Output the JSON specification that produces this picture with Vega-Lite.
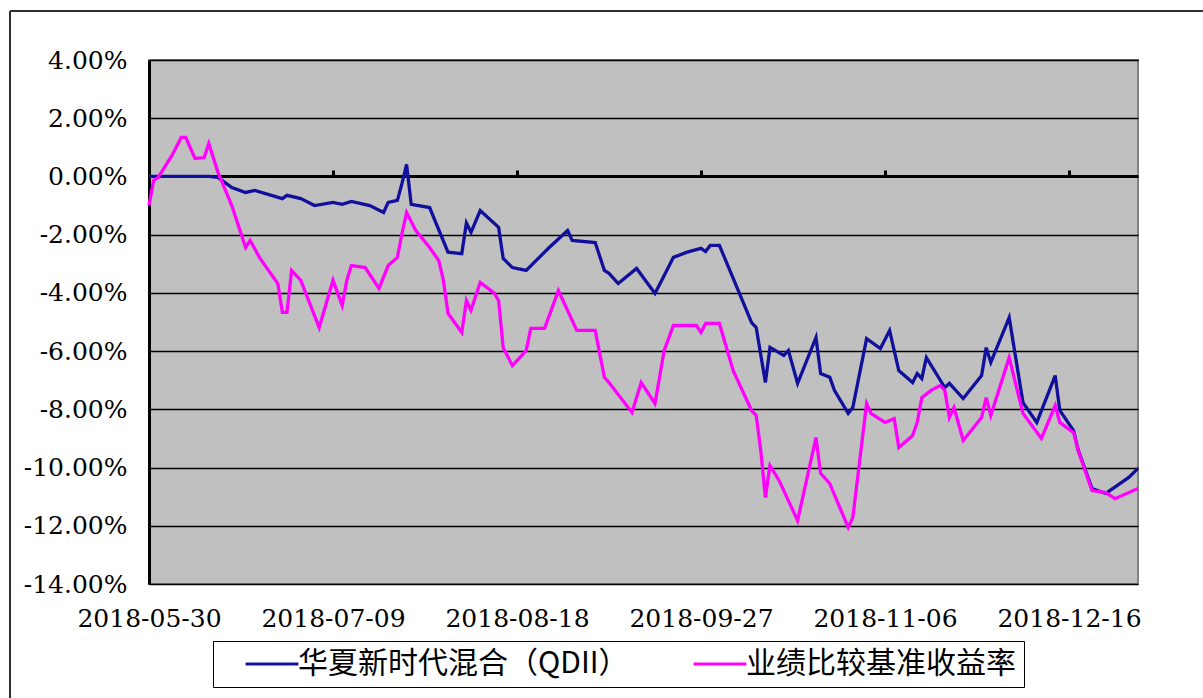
{
  "$schema": "https://vega.github.io/schema/vega-lite/v6.json",
  "width": 989,
  "height": 524,
  "autosize": "none",
  "padding": {"left": 149, "top": 60, "right": 65, "bottom": 114},
  "background": "white",
  "config": {
    "font": "DejaVu Serif",
    "view": {"fill": "#c0c0c0", "stroke": "#808080", "strokeWidth": 2}
  },
  "data": {
    "values": [
      {"d": "2018/05/30", "s": "华夏新时代混合（QDII）", "v": 0},
      {"d": "2018/06/12", "s": "华夏新时代混合（QDII）", "v": 0},
      {"d": "2018/06/14", "s": "华夏新时代混合（QDII）", "v": -0.03},
      {"d": "2018/06/17", "s": "华夏新时代混合（QDII）", "v": -0.38},
      {"d": "2018/06/20", "s": "华夏新时代混合（QDII）", "v": -0.55},
      {"d": "2018/06/22", "s": "华夏新时代混合（QDII）", "v": -0.48},
      {"d": "2018/06/28", "s": "华夏新时代混合（QDII）", "v": -0.76},
      {"d": "2018/06/29", "s": "华夏新时代混合（QDII）", "v": -0.65},
      {"d": "2018/07/02", "s": "华夏新时代混合（QDII）", "v": -0.76},
      {"d": "2018/07/05", "s": "华夏新时代混合（QDII）", "v": -1.0},
      {"d": "2018/07/09", "s": "华夏新时代混合（QDII）", "v": -0.89},
      {"d": "2018/07/11", "s": "华夏新时代混合（QDII）", "v": -0.96},
      {"d": "2018/07/13", "s": "华夏新时代混合（QDII）", "v": -0.86},
      {"d": "2018/07/17", "s": "华夏新时代混合（QDII）", "v": -1.0},
      {"d": "2018/07/20", "s": "华夏新时代混合（QDII）", "v": -1.24},
      {"d": "2018/07/21", "s": "华夏新时代混合（QDII）", "v": -0.89},
      {"d": "2018/07/23", "s": "华夏新时代混合（QDII）", "v": -0.82},
      {"d": "2018/07/24", "s": "华夏新时代混合（QDII）", "v": -0.24},
      {"d": "2018/07/25", "s": "华夏新时代混合（QDII）", "v": 0.41},
      {"d": "2018/07/26", "s": "华夏新时代混合（QDII）", "v": -0.96},
      {"d": "2018/07/30", "s": "华夏新时代混合（QDII）", "v": -1.07},
      {"d": "2018/08/03", "s": "华夏新时代混合（QDII）", "v": -2.6},
      {"d": "2018/08/06", "s": "华夏新时代混合（QDII）", "v": -2.65},
      {"d": "2018/08/07", "s": "华夏新时代混合（QDII）", "v": -1.6},
      {"d": "2018/08/08", "s": "华夏新时代混合（QDII）", "v": -1.92},
      {"d": "2018/08/10", "s": "华夏新时代混合（QDII）", "v": -1.17},
      {"d": "2018/08/14", "s": "华夏新时代混合（QDII）", "v": -1.75},
      {"d": "2018/08/15", "s": "华夏新时代混合（QDII）", "v": -2.82},
      {"d": "2018/08/17", "s": "华夏新时代混合（QDII）", "v": -3.13},
      {"d": "2018/08/20", "s": "华夏新时代混合（QDII）", "v": -3.23},
      {"d": "2018/08/25", "s": "华夏新时代混合（QDII）", "v": -2.44},
      {"d": "2018/08/29", "s": "华夏新时代混合（QDII）", "v": -1.86},
      {"d": "2018/08/30", "s": "华夏新时代混合（QDII）", "v": -2.2},
      {"d": "2018/09/04", "s": "华夏新时代混合（QDII）", "v": -2.27},
      {"d": "2018/09/06", "s": "华夏新时代混合（QDII）", "v": -3.23},
      {"d": "2018/09/07", "s": "华夏新时代混合（QDII）", "v": -3.33},
      {"d": "2018/09/09", "s": "华夏新时代混合（QDII）", "v": -3.68},
      {"d": "2018/09/13", "s": "华夏新时代混合（QDII）", "v": -3.16},
      {"d": "2018/09/17", "s": "华夏新时代混合（QDII）", "v": -4.02},
      {"d": "2018/09/19", "s": "华夏新时代混合（QDII）", "v": -3.4},
      {"d": "2018/09/21", "s": "华夏新时代混合（QDII）", "v": -2.78},
      {"d": "2018/09/24", "s": "华夏新时代混合（QDII）", "v": -2.6},
      {"d": "2018/09/27", "s": "华夏新时代混合（QDII）", "v": -2.47},
      {"d": "2018/09/28", "s": "华夏新时代混合（QDII）", "v": -2.58},
      {"d": "2018/09/29", "s": "华夏新时代混合（QDII）", "v": -2.37},
      {"d": "2018/10/01", "s": "华夏新时代混合（QDII）", "v": -2.37},
      {"d": "2018/10/04", "s": "华夏新时代混合（QDII）", "v": -3.5},
      {"d": "2018/10/08", "s": "华夏新时代混合（QDII）", "v": -5.02},
      {"d": "2018/10/09", "s": "华夏新时代混合（QDII）", "v": -5.19},
      {"d": "2018/10/11", "s": "华夏新时代混合（QDII）", "v": -7.08},
      {"d": "2018/10/12", "s": "华夏新时代混合（QDII）", "v": -5.87},
      {"d": "2018/10/15", "s": "华夏新时代混合（QDII）", "v": -6.15},
      {"d": "2018/10/16", "s": "华夏新时代混合（QDII）", "v": -5.98},
      {"d": "2018/10/18", "s": "华夏新时代混合（QDII）", "v": -7.11},
      {"d": "2018/10/22", "s": "华夏新时代混合（QDII）", "v": -5.53},
      {"d": "2018/10/23", "s": "华夏新时代混合（QDII）", "v": -6.77},
      {"d": "2018/10/25", "s": "华夏新时代混合（QDII）", "v": -6.9},
      {"d": "2018/10/26", "s": "华夏新时代混合（QDII）", "v": -7.35},
      {"d": "2018/10/29", "s": "华夏新时代混合（QDII）", "v": -8.14},
      {"d": "2018/10/30", "s": "华夏新时代混合（QDII）", "v": -7.94},
      {"d": "2018/11/02", "s": "华夏新时代混合（QDII）", "v": -5.57},
      {"d": "2018/11/05", "s": "华夏新时代混合（QDII）", "v": -5.91},
      {"d": "2018/11/07", "s": "华夏新时代混合（QDII）", "v": -5.29},
      {"d": "2018/11/09", "s": "华夏新时代混合（QDII）", "v": -6.67},
      {"d": "2018/11/12", "s": "华夏新时代混合（QDII）", "v": -7.08},
      {"d": "2018/11/13", "s": "华夏新时代混合（QDII）", "v": -6.77},
      {"d": "2018/11/14", "s": "华夏新时代混合（QDII）", "v": -6.94},
      {"d": "2018/11/15", "s": "华夏新时代混合（QDII）", "v": -6.22},
      {"d": "2018/11/19", "s": "华夏新时代混合（QDII）", "v": -7.25},
      {"d": "2018/11/20", "s": "华夏新时代混合（QDII）", "v": -7.11},
      {"d": "2018/11/23", "s": "华夏新时代混合（QDII）", "v": -7.63},
      {"d": "2018/11/27", "s": "华夏新时代混合（QDII）", "v": -6.84},
      {"d": "2018/11/28", "s": "华夏新时代混合（QDII）", "v": -5.88},
      {"d": "2018/11/29", "s": "华夏新时代混合（QDII）", "v": -6.39},
      {"d": "2018/12/03", "s": "华夏新时代混合（QDII）", "v": -4.85},
      {"d": "2018/12/06", "s": "华夏新时代混合（QDII）", "v": -7.77},
      {"d": "2018/12/09", "s": "华夏新时代混合（QDII）", "v": -8.45},
      {"d": "2018/12/13", "s": "华夏新时代混合（QDII）", "v": -6.84},
      {"d": "2018/12/14", "s": "华夏新时代混合（QDII）", "v": -8.04},
      {"d": "2018/12/17", "s": "华夏新时代混合（QDII）", "v": -8.73},
      {"d": "2018/12/18", "s": "华夏新时代混合（QDII）", "v": -9.4},
      {"d": "2018/12/21", "s": "华夏新时代混合（QDII）", "v": -10.72},
      {"d": "2018/12/24", "s": "华夏新时代混合（QDII）", "v": -10.89},
      {"d": "2018/12/29", "s": "华夏新时代混合（QDII）", "v": -10.34},
      {"d": "2018/12/31", "s": "华夏新时代混合（QDII）", "v": -10.03},
      {"d": "2018/05/30", "s": "业绩比较基准收益率", "v": -1.0},
      {"d": "2018/05/31", "s": "业绩比较基准收益率", "v": -0.14},
      {"d": "2018/06/01", "s": "业绩比较基准收益率", "v": -0.03},
      {"d": "2018/06/04", "s": "业绩比较基准收益率", "v": 0.72},
      {"d": "2018/06/06", "s": "业绩比较基准收益率", "v": 1.34},
      {"d": "2018/06/07", "s": "业绩比较基准收益率", "v": 1.34},
      {"d": "2018/06/09", "s": "业绩比较基准收益率", "v": 0.62},
      {"d": "2018/06/11", "s": "业绩比较基准收益率", "v": 0.65},
      {"d": "2018/06/12", "s": "业绩比较基准收益率", "v": 1.13},
      {"d": "2018/06/14", "s": "业绩比较基准收益率", "v": 0.14},
      {"d": "2018/06/17", "s": "业绩比较基准收益率", "v": -1.0},
      {"d": "2018/06/19", "s": "业绩比较基准收益率", "v": -1.96},
      {"d": "2018/06/20", "s": "业绩比较基准收益率", "v": -2.44},
      {"d": "2018/06/21", "s": "业绩比较基准收益率", "v": -2.2},
      {"d": "2018/06/23", "s": "业绩比较基准收益率", "v": -2.78},
      {"d": "2018/06/27", "s": "业绩比较基准收益率", "v": -3.68},
      {"d": "2018/06/28", "s": "业绩比较基准收益率", "v": -4.67},
      {"d": "2018/06/29", "s": "业绩比较基准收益率", "v": -4.67},
      {"d": "2018/06/30", "s": "业绩比较基准收益率", "v": -3.23},
      {"d": "2018/07/02", "s": "业绩比较基准收益率", "v": -3.57},
      {"d": "2018/07/06", "s": "业绩比较基准收益率", "v": -5.19},
      {"d": "2018/07/09", "s": "业绩比较基准收益率", "v": -3.57},
      {"d": "2018/07/11", "s": "业绩比较基准收益率", "v": -4.43},
      {"d": "2018/07/12", "s": "业绩比较基准收益率", "v": -3.57},
      {"d": "2018/07/13", "s": "业绩比较基准收益率", "v": -3.06},
      {"d": "2018/07/16", "s": "业绩比较基准收益率", "v": -3.13},
      {"d": "2018/07/19", "s": "业绩比较基准收益率", "v": -3.85},
      {"d": "2018/07/21", "s": "业绩比较基准收益率", "v": -3.06},
      {"d": "2018/07/23", "s": "业绩比较基准收益率", "v": -2.78},
      {"d": "2018/07/24", "s": "业绩比较基准收益率", "v": -1.96},
      {"d": "2018/07/25", "s": "业绩比较基准收益率", "v": -1.24},
      {"d": "2018/07/27", "s": "业绩比较基准收益率", "v": -1.86},
      {"d": "2018/07/30", "s": "业绩比较基准收益率", "v": -2.44},
      {"d": "2018/08/01", "s": "业绩比较基准收益率", "v": -2.89},
      {"d": "2018/08/02", "s": "业绩比较基准收益率", "v": -3.57},
      {"d": "2018/08/03", "s": "业绩比较基准收益率", "v": -4.7},
      {"d": "2018/08/06", "s": "业绩比较基准收益率", "v": -5.36},
      {"d": "2018/08/07", "s": "业绩比较基准收益率", "v": -4.26},
      {"d": "2018/08/08", "s": "业绩比较基准收益率", "v": -4.6},
      {"d": "2018/08/10", "s": "业绩比较基准收益率", "v": -3.64},
      {"d": "2018/08/13", "s": "业绩比较基准收益率", "v": -4.0},
      {"d": "2018/08/14", "s": "业绩比较基准收益率", "v": -4.26},
      {"d": "2018/08/15", "s": "业绩比较基准收益率", "v": -5.88},
      {"d": "2018/08/17", "s": "业绩比较基准收益率", "v": -6.5},
      {"d": "2018/08/20", "s": "业绩比较基准收益率", "v": -5.98},
      {"d": "2018/08/21", "s": "业绩比较基准收益率", "v": -5.22},
      {"d": "2018/08/24", "s": "业绩比较基准收益率", "v": -5.22},
      {"d": "2018/08/27", "s": "业绩比较基准收益率", "v": -3.92},
      {"d": "2018/08/31", "s": "业绩比较基准收益率", "v": -5.29},
      {"d": "2018/09/04", "s": "业绩比较基准收益率", "v": -5.29},
      {"d": "2018/09/06", "s": "业绩比较基准收益率", "v": -6.9},
      {"d": "2018/09/07", "s": "业绩比较基准收益率", "v": -7.08},
      {"d": "2018/09/12", "s": "业绩比较基准收益率", "v": -8.11},
      {"d": "2018/09/14", "s": "业绩比较基准收益率", "v": -7.08},
      {"d": "2018/09/17", "s": "业绩比较基准收益率", "v": -7.8},
      {"d": "2018/09/19", "s": "业绩比较基准收益率", "v": -5.98},
      {"d": "2018/09/21", "s": "业绩比较基准收益率", "v": -5.12},
      {"d": "2018/09/26", "s": "业绩比较基准收益率", "v": -5.12},
      {"d": "2018/09/27", "s": "业绩比较基准收益率", "v": -5.36},
      {"d": "2018/09/28", "s": "业绩比较基准收益率", "v": -5.05},
      {"d": "2018/10/01", "s": "业绩比较基准收益率", "v": -5.05},
      {"d": "2018/10/04", "s": "业绩比较基准收益率", "v": -6.67},
      {"d": "2018/10/08", "s": "业绩比较基准收益率", "v": -8.04},
      {"d": "2018/10/09", "s": "业绩比较基准收益率", "v": -8.21},
      {"d": "2018/10/10", "s": "业绩比较基准收益率", "v": -9.42},
      {"d": "2018/10/11", "s": "业绩比较基准收益率", "v": -11.03},
      {"d": "2018/10/12", "s": "业绩比较基准收益率", "v": -9.93},
      {"d": "2018/10/14", "s": "业绩比较基准收益率", "v": -10.45},
      {"d": "2018/10/18", "s": "业绩比较基准收益率", "v": -11.82},
      {"d": "2018/10/22", "s": "业绩比较基准收益率", "v": -8.97},
      {"d": "2018/10/23", "s": "业绩比较基准收益率", "v": -10.2},
      {"d": "2018/10/25", "s": "业绩比较基准收益率", "v": -10.55},
      {"d": "2018/10/29", "s": "业绩比较基准收益率", "v": -12.06},
      {"d": "2018/10/30", "s": "业绩比较基准收益率", "v": -11.72},
      {"d": "2018/11/02", "s": "业绩比较基准收益率", "v": -7.8},
      {"d": "2018/11/03", "s": "业绩比较基准收益率", "v": -8.15},
      {"d": "2018/11/06", "s": "业绩比较基准收益率", "v": -8.45},
      {"d": "2018/11/08", "s": "业绩比较基准收益率", "v": -8.32},
      {"d": "2018/11/09", "s": "业绩比较基准收益率", "v": -9.31},
      {"d": "2018/11/12", "s": "业绩比较基准收益率", "v": -8.9},
      {"d": "2018/11/13", "s": "业绩比较基准收益率", "v": -8.45},
      {"d": "2018/11/14", "s": "业绩比较基准收益率", "v": -7.6},
      {"d": "2018/11/16", "s": "业绩比较基准收益率", "v": -7.35},
      {"d": "2018/11/18", "s": "业绩比较基准收益率", "v": -7.18},
      {"d": "2018/11/19", "s": "业绩比较基准收益率", "v": -7.35},
      {"d": "2018/11/20", "s": "业绩比较基准收益率", "v": -8.28},
      {"d": "2018/11/21", "s": "业绩比较基准收益率", "v": -7.94},
      {"d": "2018/11/23", "s": "业绩比较基准收益率", "v": -9.07},
      {"d": "2018/11/27", "s": "业绩比较基准收益率", "v": -8.28},
      {"d": "2018/11/28", "s": "业绩比较基准收益率", "v": -7.6},
      {"d": "2018/11/29", "s": "业绩比较基准收益率", "v": -8.21},
      {"d": "2018/12/03", "s": "业绩比较基准收益率", "v": -6.22},
      {"d": "2018/12/06", "s": "业绩比较基准收益率", "v": -8.14},
      {"d": "2018/12/10", "s": "业绩比较基准收益率", "v": -9.0},
      {"d": "2018/12/13", "s": "业绩比较基准收益率", "v": -7.87},
      {"d": "2018/12/14", "s": "业绩比较基准收益率", "v": -8.45},
      {"d": "2018/12/17", "s": "业绩比较基准收益率", "v": -8.8},
      {"d": "2018/12/18", "s": "业绩比较基准收益率", "v": -9.42},
      {"d": "2018/12/21", "s": "业绩比较基准收益率", "v": -10.79},
      {"d": "2018/12/24", "s": "业绩比较基准收益率", "v": -10.86},
      {"d": "2018/12/26", "s": "业绩比较基准收益率", "v": -11.07},
      {"d": "2018/12/31", "s": "业绩比较基准收益率", "v": -10.72}
    ]
  },
  "resolve": {"axis": {"x": "independent", "y": "independent"}},
  "layer": [
    {
      "mark": {"type": "point", "opacity": 0},
      "encoding": {
        "x": {
          "field": "d",
          "type": "temporal",
          "scale": {"domain": [{"year": 2018, "month": 5, "date": 30}, {"year": 2018, "month": 12, "date": 31}]},
          "axis": {
            "orient": "top",
            "offset": -116,
            "title": null,
            "labels": false,
            "grid": false,
            "domain": true,
            "domainColor": "black",
            "domainWidth": 3,
            "ticks": true,
            "tickColor": "black",
            "tickWidth": 3,
            "tickSize": 6,
            "zindex": 0,
            "values": [
              {"year": 2018, "month": 5, "date": 30},
              {"year": 2018, "month": 7, "date": 9},
              {"year": 2018, "month": 8, "date": 18},
              {"year": 2018, "month": 9, "date": 27},
              {"year": 2018, "month": 11, "date": 6},
              {"year": 2018, "month": 12, "date": 16}
            ]
          }
        },
        "y": {
          "field": "v",
          "type": "quantitative",
          "scale": {"domain": [-14, 4], "nice": false, "zero": false},
          "axis": {
            "orient": "left",
            "title": null,
            "values": [-14, -12, -10, -8, -6, -4, -2, 0, 2, 4],
            "grid": true,
            "gridColor": "black",
            "gridWidth": 1.5,
            "gridOpacity": 1,
            "domain": true,
            "domainColor": "black",
            "domainWidth": 3,
            "ticks": false,
            "tickSize": 0,
            "labelPadding": 22,
            "labelFont": "DejaVu Serif",
            "labelFontSize": 25,
            "labelColor": "black",
            "labelOverlap": false,
            "labelBound": false,
            "labelFlush": false,
            "zindex": 0,
            "labelExpr": "(datum.value < 0 ? '-' : '') + format(abs(datum.value), '.2f') + '%'"
          }
        }
      }
    },
    {
      "mark": {"type": "rule", "color": "#303030", "strokeWidth": 1.5, "clip": false},
      "encoding": {
        "x": {"datum": {"year": 2018, "month": 4, "date": 29, "hours": 19}, "type": "temporal", "axis": null},
        "y": {"datum": 5.68, "type": "quantitative", "axis": null},
        "y2": {"datum": -22}
      }
    },
    {
      "mark": {"type": "rule", "color": "#303030", "strokeWidth": 1.5, "clip": false},
      "encoding": {
        "x": {"datum": {"year": 2018, "month": 4, "date": 29, "hours": 19}, "type": "temporal", "axis": null},
        "x2": {"datum": {"year": 2019, "month": 2, "date": 28}},
        "y": {"datum": 5.68, "type": "quantitative", "axis": null}
      }
    },
    {
      "mark": {"type": "line", "strokeWidth": 3.3},
      "encoding": {
        "x": {
          "field": "d",
          "type": "temporal",
          "axis": {
            "orient": "bottom",
            "title": null,
            "domain": false,
            "ticks": false,
            "tickSize": 0,
            "grid": false,
            "labelPadding": 22,
            "labelFont": "DejaVu Serif",
            "labelFontSize": 25,
            "labelColor": "black",
            "labelFlush": false,
            "labelOverlap": false,
            "labelBound": false,
            "format": "%Y-%m-%d",
            "values": [
              {"year": 2018, "month": 5, "date": 30},
              {"year": 2018, "month": 7, "date": 9},
              {"year": 2018, "month": 8, "date": 18},
              {"year": 2018, "month": 9, "date": 27},
              {"year": 2018, "month": 11, "date": 6},
              {"year": 2018, "month": 12, "date": 16}
            ]
          }
        },
        "y": {"field": "v", "type": "quantitative", "axis": null},
        "color": {
          "field": "s",
          "type": "nominal",
          "sort": ["华夏新时代混合（QDII）", "业绩比较基准收益率"],
          "scale": {"domain": ["华夏新时代混合（QDII）", "业绩比较基准收益率"], "range": ["#10109c", "#ff00ff"]},
          "legend": {
            "orient": "none",
            "legendX": 64,
            "legendY": 581,
            "direction": "horizontal",
            "title": null,
            "symbolType": "M-4.4,0H4.4",
            "symbolSize": 144,
            "symbolStrokeWidth": 3,
            "symbolOffset": 36,
            "labelFont": "Noto Sans CJK SC",
            "labelFontSize": 30,
            "labelColor": "black",
            "labelLimit": 1000,
            "labelOffset": 11,
            "columnPadding": 40,
            "padding": 8,
            "strokeColor": "black",
            "fillColor": "white"
          }
        }
      }
    }
  ]
}
